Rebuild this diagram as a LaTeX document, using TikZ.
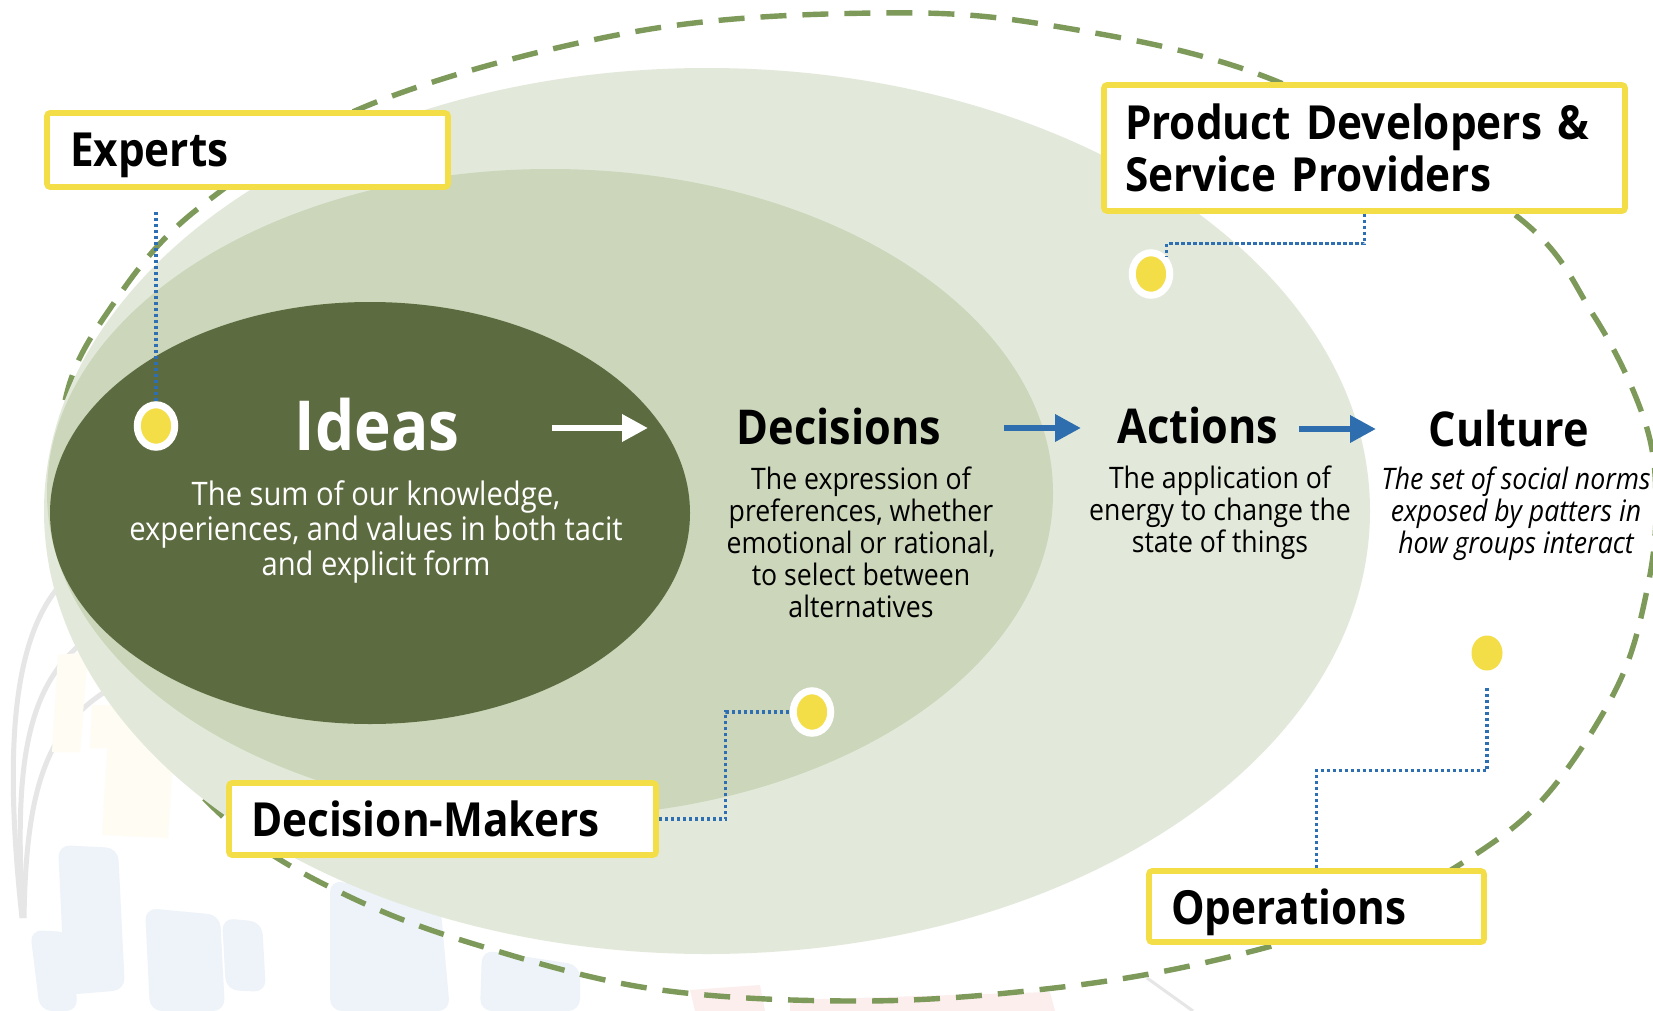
\documentclass[tikz,border=0pt]{standalone}
\usepackage{fontspec}
\setmainfont{Open Sans}[FakeStretch=0.9]
\usetikzlibrary{arrows.meta,shapes.geometric,calc}

\definecolor{darkg}{HTML}{5C6B40}
\definecolor{midg}{HTML}{CBD6BA}
\definecolor{lightg}{HTML}{E2E9DA}
\definecolor{dashg}{HTML}{7E9A5A}
\definecolor{yellowc}{HTML}{F4DE48}
\definecolor{lineblue}{HTML}{2E6FB3}
\definecolor{arrowblue}{HTML}{2E6DAE}
\definecolor{wmgrey}{HTML}{E6E6E6}
\definecolor{wmblue}{HTML}{EDF3F9}
\definecolor{wmyellow}{HTML}{FFFCF3}
\definecolor{wmpink}{HTML}{FDEEEE}

\tikzset{
  lbox/.style={draw=yellowc, line width=2.8pt, fill=white, rounded corners=1.5pt,
    inner sep=0pt, align=left, font=\bfseries\fontsize{23.5}{26}\selectfont},
  heading/.style={font=\bfseries\fontsize{24}{28}\selectfont},
  desc/.style={align=center, font=\fontsize{14.8}{16}\selectfont},
  dot/.style={ellipse, fill=yellowc, draw=white, line width=3.5pt,
    minimum width=18.75pt, minimum height=21.25pt, inner sep=0pt},
  conn/.style={lineblue, line width=1.6pt, dash pattern=on 1.6pt off 1.4pt},
  flowarrow/.style={line width=3.4pt, -{Triangle[length=13pt,width=13pt]}},
}

\begin{document}
\begin{tikzpicture}[x=0.5pt, y=-0.5pt]
\useasboundingbox (0,0) rectangle (1653,1011);
\fill[white] (0,0) rectangle (1653,1011);

% faint backdrop ornaments
\draw[wmgrey, line width=2.5pt] (22,918) .. controls (5,760) and (10,640) .. (62,583);
\draw[wmgrey, line width=2.5pt] (23,918) .. controls (14,770) and (25,690) .. (82,643);
\draw[wmgrey, line width=2.5pt] (24,918) .. controls (26,800) and (42,730) .. (108,690);
\fill[wmyellow] (58,655) -- (88,652) -- (80,752) -- (52,752) -- cycle;
\fill[wmyellow] (92,705) -- (140,705) -- (138,748) -- (90,748) -- cycle;
\fill[wmyellow] (108,735) -- (175,735) -- (168,838) -- (102,835) -- cycle;
\fill[wmblue, rounded corners=6pt] (58,845) -- (118,848) -- (125,990) -- (65,995) -- cycle;
\fill[wmblue, rounded corners=6pt] (30,930) -- (70,932) -- (78,1011) -- (40,1011) -- cycle;
\fill[wmblue, rounded corners=6pt] (145,908) -- (220,915) -- (225,1011) -- (150,1011) -- cycle;
\fill[wmblue, rounded corners=6pt] (222,918) -- (262,922) -- (266,992) -- (226,990) -- cycle;
\fill[wmblue, rounded corners=6pt] (330,880) -- (440,900) -- (450,1011) -- (330,1011) -- cycle;
\fill[wmblue, rounded corners=6pt] (482,950) -- (580,965) -- (580,1011) -- (480,1011) -- cycle;
\fill[wmpink] (690,990) -- (760,985) -- (765,1011) -- (695,1011) -- cycle;
\fill[wmpink] (790,1000) -- (1050,992) -- (1055,1011) -- (790,1011) -- cycle;
\draw[wmgrey, line width=1.5pt] (1147,978) -- (1193,1011);

% outer dashed boundary
\draw[dashg, line width=2.7pt, dash pattern=on 13pt off 8pt]
  plot[smooth cycle, tension=0.6] coordinates {
    (875,13) (1054,26) (1276,81) (1510,211) (1594,316) (1645,422) (1656,506)
    (1647,590) (1618,685) (1550,791) (1476,854) (1360,917) (1212,961)
    (1054,988) (864,1001) (654,989) (474,944) (348,896) (242,833)
    (158,743) (98,633) (64,506) (65,401) (105,316) (195,211) (369,105) (633,32)};

% nested regions
\fill[lightg] (707,511) ellipse [x radius=331.5pt, y radius=221.5pt];
\fill[midg] (550,493) ellipse [x radius=251.5pt, y radius=162pt];
\fill[darkg] (370,513) ellipse [x radius=160pt, y radius=105.5pt];

% headings and descriptions
\node[font=\bfseries\fontsize{34.5}{40}\selectfont, text=white] (ideas) at (377,425) {Ideas};
\node[desc, text=white, font=\fontsize{16.2}{17.5}\selectfont] (ideasd) at (376,532)
  {The sum of our knowledge,\\experiences, and values in both tacit\\and explicit form};

\node[heading] (decisions) at (839,426) {Decisions};
\node[desc] (decisionsd) at (861,542)
  {The expression of\\preferences, whether\\emotional or rational,\\to select between\\alternatives};

\node[heading] (actions) at (1198,425) {Actions};
\node[desc] (actionsd) at (1220,513)
  {The application of\\energy to change the\\state of things};

\node[heading] (culture) at (1509,428) {Culture};
\node[desc, font=\itshape\fontsize{14.8}{16}\selectfont] (cultured) at (1516,514)
  {The set of social norms\\exposed by patters in\\how groups interact};

% flow arrows
\coordinate (w1) at (552,428);
\coordinate (w2) at (648,428);
\coordinate (b1) at (1004,428);
\coordinate (b2) at (1081,428);
\coordinate (b3) at (1299,429);
\coordinate (b4) at (1376,429);
\draw[flowarrow, white] (w1) -- (w2);
\draw[flowarrow, arrowblue] (b1) -- (b2);
\draw[flowarrow, arrowblue] (b3) -- (b4);

% markers
\node[dot] (d1) at (156,426) {};
\node[dot] (d2) at (1151,274) {};
\node[dot] (d3) at (812,712) {};
\node[dot, draw=none, minimum width=15.5pt, minimum height=17.5pt] (d4) at (1487,653) {};

% role labels
\node[lbox, text depth=0pt, minimum width=200.5pt, minimum height=37pt, text width=177.5pt] (experts) at (247.5,150) {Experts};
\node[lbox, minimum width=260.5pt, minimum height=63pt, text width=239.5pt] (pbox) at (1364.5,148)
  {Product Developers \&\\Service Providers};
\node[lbox, text depth=0pt, minimum width=213.5pt, minimum height=36pt, text width=191.5pt] (dmbox) at (442.5,819) {Decision-Makers};
\node[lbox, text depth=0pt, minimum width=167.5pt, minimum height=35.5pt, text width=145.5pt] (opbox) at (1316.5,906.5) {Operations};

% callout leaders
\draw[conn, shorten <=11pt] (experts.south -| d1) -- (d1.north);
\draw[conn] (pbox.south) -- ++(0,30) -| (d2.north east);
\draw[conn] (dmbox.east) -- ++(67,0) |- (d3.west);
\draw[conn, shorten >=6pt] (opbox.north) -- ++(0,-98) -| (d4.south);
\end{tikzpicture}
\end{document}
